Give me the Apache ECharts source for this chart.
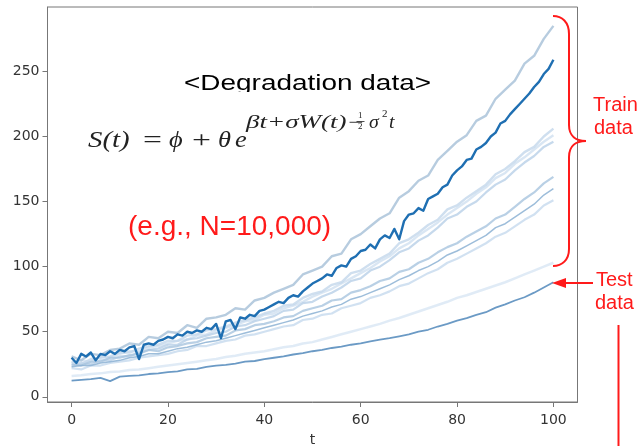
<!DOCTYPE html>
<html>
<head>
<meta charset="utf-8">
<script src="https://cdn.jsdelivr.net/npm/echarts@6/dist/echarts.min.js"></script>
<style>
html,body{margin:0;padding:0;background:#fff;}
#c{width:641px;height:446px;}
</style>
</head>
<body>
<div id="c"></div>
<script>
// ---- data ----
const xTicks = [0, 20, 40, 60, 80, 100];
const yTicks = [0, 50, 100, 150, 200, 250];

// highlighted training path, one value per t = 0..100
const darkPath = [30,26,33,31,34,28,33,32,35,33,
  36,35,38,39,29,40,41,40,43,44,
  46,45,48,47,50,49,51,50,53,52,
  56,45,58,59,52,61,60,63,62,66,
  67,69,71,73,72,76,78,77,81,84,
  87,89,91,94,93,99,101,100,106,108,
  112,113,117,114,121,124,122,129,121,135,
  140,141,145,143,152,154,156,161,163,170,
  174,177,182,183,190,192,195,200,203,210,
  212,217,221,225,229,233,238,242,248,252,
  259];

// other training paths, one value per t = 0,2,4..100
const trainTop = [31,28,33,32,36,37,41,40,46,45,50,49,55,53,60,61,63,68,67,74,76,80,83,86,94,97,100,108,110,121,125,131,137,141,153,158,166,170,182,189,196,201,212,216,229,236,243,256,262,275,285];
const trainA = [27,25,29,30,31,34,34,37,39,40,43,43,47,48,51,52,54,57,59,61,64,66,70,71,76,79,81,86,88,95,97,102,106,110,118,121,126,132,136,144,147,153,158,163,171,175,181,188,192,200,206];
const trainB = [24,26,25,28,28,31,31,34,36,37,40,40,44,45,47,49,50,54,55,58,60,62,66,67,72,73,77,80,84,89,91,97,100,105,111,114,120,124,130,137,140,146,150,157,163,167,174,180,185,192,196];
const trainC = [26,28,27,31,30,33,35,35,38,39,41,43,44,47,48,51,53,55,58,59,63,64,68,70,73,77,80,83,87,91,95,99,104,108,114,118,124,129,134,140,145,150,156,161,168,172,179,184,190,196,201];
const trainD = [25,24,27,27,30,30,32,33,36,35,38,39,41,42,45,46,47,51,52,55,56,58,61,62,66,68,70,74,75,80,82,85,89,91,96,98,103,106,111,115,118,123,127,131,137,140,146,152,157,164,169];
const trainE = [23,24,24,26,27,28,30,31,33,33,35,37,38,40,42,43,45,47,49,51,53,55,57,59,62,64,66,69,71,75,77,80,83,86,90,93,97,100,104,109,112,116,120,124,130,133,138,143,148,155,160];
const trainF = [22,21,24,24,26,27,28,30,31,32,33,35,36,39,39,41,43,44,47,48,50,52,54,55,59,60,63,64,68,70,72,76,78,81,85,87,91,95,98,103,106,110,114,118,123,126,131,136,140,147,151];
const trainFaint = [16,16.5,17.5,18,19,19.5,20.5,21,22,23,24,25,26,27,28,29,30.5,31.5,33,34,35,36.5,38,39,41,42,44,46,48,50,52,54,56,58.5,60.5,63,65.5,68,70.5,73,76,78,80.5,83,85.5,88,91,94,97,100,103];
const testPath = [12.5,13,13.5,14.5,12,15.5,16,16.5,17.5,18,19,19.5,21,21.5,23,24,24.5,25.5,27,27.5,29,30,31,32.5,33.5,35,36,37.5,38.5,40,41,42.5,44,45,46.5,48,50,51.5,54,56,58.5,60.5,63,65,68.5,71,74,76.5,80,84,88];

// ---- build chart ----
function pairs(vals, step) { return vals.map((v, i) => [i * step, v]); }
function lineSeries(vals, step, color, width, z, opacity) {
  return { type: 'line', data: pairs(vals, step), showSymbol: false, symbol: 'none',
    lineStyle: { color: color, width: width, opacity: opacity == null ? 1 : opacity, join: 'round' },
    z: z, silent: true, animation: false };
}

const chart = echarts.init(document.getElementById('c'), null, { renderer: 'canvas' });
const red = '#ff1a1a';
const axisGray = '#777';
const tickFont = { color: '#333', fontSize: 14, fontFamily: 'DejaVu Sans' };

function txt(x, y, text, font, fill, extra) {
  return Object.assign({ type: 'text', x: x, y: y, z: 100,
    style: { text: text, font: font, fill: fill, align: 'left', verticalAlign: 'middle',
      textAlign: 'left', textVerticalAlign: 'middle' } }, extra || {});
}
function seg(x1, y1, x2, y2) {
  return { type: 'line', z: 100, shape: { x1, y1, x2, y2 }, style: { stroke: red, lineWidth: 2 } };
}
function bez(x1, y1, cx1, cy1, cx2, cy2, x2, y2) {
  return { type: 'bezierCurve', z: 100,
    shape: { x1, y1, x2, y2, cpx1: cx1, cpy1: cy1, cpx2: cx2, cpy2: cy2 },
    style: { stroke: red, lineWidth: 2, fill: null } };
}

const serif = '"Liberation Serif", "DejaVu Serif", serif';
const mainF = 'italic 24px ' + serif;
const supF = 'italic 18px ' + serif;
const ink = '#222';
const option = {
  animation: false,
  grid: { left: 47.5, top: 7, width: 530, height: 395, show: true, borderColor: axisGray, borderWidth: 1,
    containLabel: false, outerBoundsMode: 'none' },
  xAxis: {
    type: 'value', min: -5, max: 105,
    axisLine: { show: true, onZero: false, lineStyle: { color: axisGray, width: 1 } },
    axisTick: { show: true, length: 5, customValues: xTicks, lineStyle: { color: axisGray } },
    axisLabel: Object.assign({ customValues: xTicks, margin: 11 }, tickFont),
    splitLine: { show: false },
    name: 't', nameLocation: 'middle', nameGap: 31,
    nameTextStyle: { color: '#333', fontSize: 14, fontFamily: 'DejaVu Sans' }
  },
  yAxis: {
    type: 'value', min: -4, max: 299.5,
    axisLine: { show: true, onZero: false, lineStyle: { color: axisGray, width: 1 } },
    axisTick: { show: true, length: 5, customValues: yTicks, lineStyle: { color: axisGray } },
    axisLabel: Object.assign({ customValues: yTicks, margin: 8 }, tickFont),
    splitLine: { show: false }
  },
  series: [
    lineSeries(trainFaint, 2, '#dde9f5', 2.5, 1, 0.9),
    lineSeries(trainC, 2, '#cfe0f0', 2.4, 2, 0.8),
    lineSeries(trainF, 2, '#c6daed', 2.2, 2, 0.8),
    lineSeries(trainB, 2, '#b8d0e7', 2.2, 3, 0.8),
    lineSeries(trainA, 2, '#c3d7eb', 2.4, 3, 0.8),
    lineSeries(trainD, 2, '#a8c4de', 2.2, 3, 0.8),
    lineSeries(trainE, 2, '#8cb2d4', 1.5, 4, 0.85),
    lineSeries(trainTop, 2, '#afc6dc', 2.4, 4, 0.9),
    lineSeries(testPath, 2, '#6b9ac5', 1.8, 5, 1),
    lineSeries(darkPath, 1, '#1f6fb2', 2.4, 6, 1)
  ],
  graphic: { elements: [
    txt(184, 83.5, '<Degradation data>', '22px "Liberation Sans", Arial, sans-serif', '#000', { scaleX: 1.27 }),
    { type: 'rect', z: 101, shape: { x: 178, y: 92, width: 262, height: 9 }, style: { fill: '#fff' } },
    // formula
    txt(88, 141, 'S(t)', mainF, ink, { scaleX: 1.2 }),
    txt(143, 141, '=', '24px ' + serif, ink, { scaleX: 1.4 }),
    txt(169, 141, 'ϕ', mainF, ink, { scaleX: 1.1 }),
    txt(192, 141, '+', '24px ' + serif, ink, { scaleX: 1.4 }),
    txt(218, 141, 'θ', mainF, ink, { scaleX: 1.1 }),
    txt(235, 141, 'e', mainF, ink, { scaleX: 1.1 }),
    txt(246, 123, 'βt+σW(t)−', supF, ink, { scaleX: 1.5 }),
    txt(358, 116, '1', '9px ' + serif, ink),
    { type: 'line', z: 100, shape: { x1: 356.5, y1: 121.5, x2: 364.5, y2: 121.5 }, style: { stroke: ink, lineWidth: 0.8 } },
    txt(358, 127, '2', '9px ' + serif, ink),
    txt(369, 123, 'σ', supF, ink, { scaleX: 1.1 }),
    txt(382, 114, '2', '11px ' + serif, ink),
    txt(389, 123, 't', supF, ink, { scaleX: 1.1 }),
    // red annotations
    txt(128, 227, '(e.g., N=10,000)', '28px "Liberation Sans", Arial, sans-serif', red),
    txt(593, 105, 'Train', '20px "Liberation Sans", Arial, sans-serif', red),
    txt(594, 128, 'data', '20px "Liberation Sans", Arial, sans-serif', red),
    txt(596, 280, 'Test', '20px "Liberation Sans", Arial, sans-serif', red),
    txt(595, 303, 'data', '20px "Liberation Sans", Arial, sans-serif', red),
    // brace
    bez(553, 16, 562, 16, 569, 22, 569, 34),
    seg(569, 34, 569, 125),
    bez(569, 125, 569, 136, 576, 141, 586, 141),
    bez(586, 141, 576, 141, 569, 146, 569, 157),
    seg(569, 157, 569, 249),
    bez(569, 249, 569, 260, 562, 266, 553, 266),
    // arrow
    seg(564, 283, 593, 283),
    { type: 'polygon', z: 100, shape: { points: [[552, 283], [566, 278], [566, 288]] }, style: { fill: red } },
    // vertical line
    seg(618.5, 325, 618.5, 446)
  ] }
};
chart.setOption(option);
</script>
</body>
</html>
